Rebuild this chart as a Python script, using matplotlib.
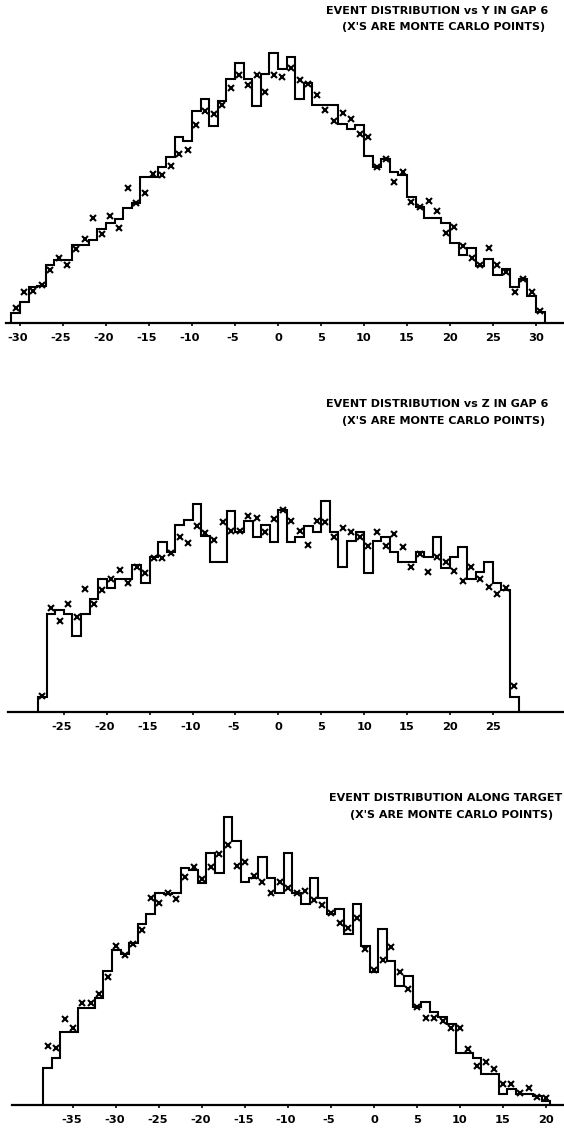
import matplotlib
matplotlib.use("Agg")
import matplotlib.pyplot as plt
import matplotlib.transforms as mtransforms
import numpy as np

plt.rcParams['axes.unicode_minus'] = False
plt.rcParams['font.family'] = ['DejaVu Sans']

# ---------------- data (arbitrary count units) ----------------
# Panel 1: event distribution vs Y in gap 6, bins of width 1 from -31 to 31
y_edges = np.arange(-31, 32)
y_counts = [10, 21, 36, 36.7, 57.7, 62.7, 62.7, 77.7, 77.7, 82.7,
            93.3, 99.3, 103.7, 114.3, 119.3, 145.3, 145.3, 156, 165.3, 186,
            182, 212, 223.3, 196.7, 222, 243.3, 259.3, 243.3, 217, 248.3,
            269.3, 253.3, 265.3, 223.3, 239.3, 217.7, 217.7, 217.7, 198.7, 193.3,
            197.7, 166.7, 156, 163.3, 151, 147.7, 125.3, 115.3, 104.3, 104.3,
            100, 79.3, 67.7, 74.3, 56.7, 63.7, 47.7, 53.3, 36, 43.3,
            26.7, 11]
y_mc = [14.3, 31, 32, 37.7, 52.7, 64.3, 57.3, 73.3, 83.7, 104.3,
        88.3, 107, 94.3, 134.3, 120, 129.3, 148.7, 147.7, 156.7, 168.3,
        172.7, 197.3, 212, 208.7, 217.7, 234.7, 248, 237.7, 248, 230.3,
        248, 245.3, 254.3, 242.7, 238.7, 227.7, 212.7, 202, 210, 203.7,
        188.7, 185.3, 156, 164, 141, 150.3, 121, 116, 122, 112,
        89.3, 96, 76.7, 64.3, 57.7, 74.3, 57.7, 50.3, 30.3, 43.3,
        30.3, 12]
y_ticks = [-30, -25, -20, -15, -10, -5, 0, 5, 10, 15, 20, 25, 30]

# Panel 2: event distribution vs Z in gap 6, bins of width 1 from -28 to 28
z_edges = np.arange(-28, 29)
z_counts = [14.3, 97.3, 101.7, 97.3, 75.7, 97.3, 112.7, 132.3, 123.3, 132.3,
            132.3, 146.7, 128.3, 154.3, 170, 160, 186.7, 191.7, 207.3, 175.7,
            150, 150, 201, 180, 191, 174.3, 186.7, 170, 201.7, 170,
            175, 185.7, 179.3, 211, 180, 144.3, 170.7, 180, 139, 170.7,
            175, 160, 149.3, 149.3, 160, 154.3, 175, 143.3, 154.3, 165,
            132.7, 140, 149.3, 128.3, 121.7, 14.3]
z_mc = [15.7, 103.3, 91, 107.3, 94.3, 122.3, 107.3, 121.7, 132.3, 141.7,
        128.3, 144.3, 138.3, 153.3, 153.3, 159, 174.3, 168.3, 185.7, 178.3,
        171.7, 189.3, 181, 181, 195.7, 194, 180, 192.7, 201.7, 191,
        181, 166.7, 191, 190, 175, 184, 180, 175, 165.7, 180,
        165.7, 177.3, 165, 144.3, 157.7, 140, 155, 150, 140.7, 131,
        144.3, 132.7, 124.3, 117.7, 123.3, 26]
z_ticks = [-25, -20, -15, -10, -5, 0, 5, 10, 15, 20, 25]

# Panel 3: event distribution along target, bins centred on integers -38 .. 20
t_edges = np.arange(-38.5, 21.0, 1.0)
t_counts = [36.3, 46.3, 73, 73, 97, 97, 106.3, 134, 154.7, 150.7,
            161.3, 180.3, 190.3, 211.3, 210.7, 211.3, 236.3, 234.7, 221.3, 252,
            232, 288, 263.7, 223, 226.3, 247.3, 226.3, 212, 252, 212,
            200.7, 227, 206.3, 190.7, 195.7, 170.7, 200.7, 159, 133, 175.3,
            144, 119, 129, 97.3, 102.3, 93, 88, 80.7, 51.3, 51.3,
            46.3, 30.7, 30.7, 10.7, 15.3, 10.7, 10.7, 8.7, 4]
t_mc = [58.7, 56.3, 85.3, 76.3, 102, 102, 110.7, 128, 158.7, 149.7,
        160.3, 174.7, 207, 202, 212, 205.3, 227.3, 237.3, 225.3, 237.3,
        250.3, 259.7, 238.7, 243, 228.7, 223, 212, 223, 216.3, 211.3,
        213.7, 204.7, 199.7, 191.3, 181.3, 176.3, 186.3, 155.7, 134.7, 144.7,
        158, 133, 115.3, 98, 86.3, 86.3, 84, 76.3, 76.3, 55.7,
        39, 43, 35.3, 20.7, 20.7, 12, 16.3, 7.3, 6.3]
t_ticks = [-35, -30, -25, -20, -15, -10, -5, 0, 5, 10, 15, 20]

titles = [("EVENT DISTRIBUTION vs Y IN GAP 6", "(X'S ARE MONTE CARLO POINTS)"),
          ("EVENT DISTRIBUTION vs Z IN GAP 6", "(X'S ARE MONTE CARLO POINTS)"),
          ("EVENT DISTRIBUTION ALONG TARGET", "(X'S ARE MONTE CARLO POINTS)")]

# ---------------- layout (pixels) ----------------
W, H = 564, 1133
fig = plt.figure(figsize=(W / 100, H / 100), dpi=100)
fig.patch.set_facecolor('white')

panels = [
    # edges, counts, mc, ticks, px_left, px_right, px_top, px_base, x0px, scale,
    # title y1, y2, title right1, right2
    (y_edges, y_counts, y_mc, y_ticks, 6, 564, 40, 322.7, 278.0, 8.6, 11.5, 27.5, 548, 545),
    (z_edges, z_counts, z_mc, z_ticks, 8, 564, 480, 711.7, 278.3, 8.58, 404.5, 420.5, 548, 545),
    (t_edges, t_counts, t_mc, t_ticks, 12, 564, 810, 1104.7, 374.0, 8.59, 798, 815, 562, 553),
]

shift_left = mtransforms.ScaledTranslation(-2.0 / 100, 0, fig.dpi_scale_trans)

for i, (edges, counts, mc, ticks, pl, pr, pt, pb, x0, s, ty1, ty2, tr1, tr2) in enumerate(panels):
    ax = fig.add_axes([pl / W, 1 - pb / H, (pr - pl) / W, (pb - pt) / H])
    ax.set_xlim((pl - x0) / s, (pr - x0) / s)
    ax.set_ylim(0, pb - pt)
    centers = (np.asarray(edges[:-1]) + np.asarray(edges[1:])) / 2.0
    ax.stairs(counts, edges, baseline=0, color='black', linewidth=1.5, clip_on=False)
    ax.plot(centers, mc, linestyle='none', marker='x', markersize=4.2,
            markeredgewidth=1.5, color='black', clip_on=False)
    for sp in ['top', 'left', 'right']:
        ax.spines[sp].set_visible(False)
    ax.spines['bottom'].set_linewidth(1.6)
    ax.set_yticks([])
    ax.set_xticks(ticks)
    ax.set_xticklabels([str(t) for t in ticks], fontsize=8.2, fontweight='bold')
    ax.tick_params(axis='x', direction='out', length=2.5, width=1.2, pad=5.0)
    for lab, t in zip(ax.get_xticklabels(), ticks):
        if t < 0:
            lab.set_transform(lab.get_transform() + shift_left)
    ax.patch.set_alpha(0)
    fig.text(tr1 / W, 1 - ty1 / H, titles[i][0], ha='right', va='center',
             fontsize=8.0, fontweight='bold')
    fig.text(tr2 / W, 1 - ty2 / H, titles[i][1], ha='right', va='center',
             fontsize=8.0, fontweight='bold')

fig.savefig('out.png', dpi=100, facecolor='white')
